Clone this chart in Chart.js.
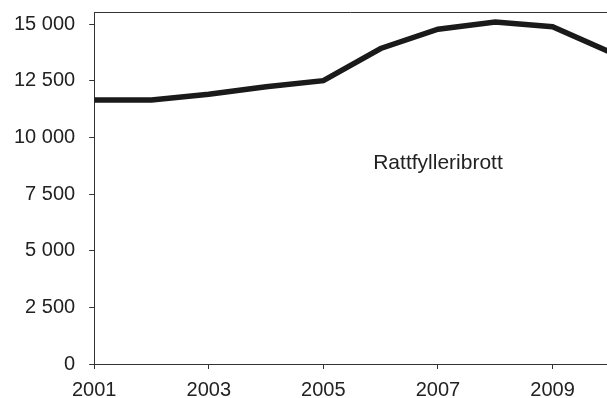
<!DOCTYPE html>
<html>
<head>
<meta charset="utf-8">
<script src="https://cdn.jsdelivr.net/npm/chart.js@4/dist/chart.umd.min.js"></script>
<style>
  html, body { margin: 0; padding: 0; background: #fff; overflow: hidden; }
  #wrap { width: 607px; height: 398px; position: relative; overflow: hidden; }
  #c { position: absolute; left: 0; top: -14px; }
</style>
</head>
<body>
<div id="wrap"><canvas id="c" width="607" height="426"></canvas></div>
<script>
const years = [2001, 2002, 2003, 2004, 2005, 2006, 2007, 2008, 2009, 2010];
const values = [11650, 11650, 11900, 12230, 12500, 13920, 14770, 15090, 14880, 13770];
const yTickValues = [0, 2500, 5000, 7500, 10000, 12500, 15000];
const xTickValues = [2001, 2003, 2005, 2007, 2009];
const seriesLabel = 'Rattfylleribrott';
const labelPos = { x: 2007, y: 8850 };

const fmt = v => String(v).replace(/\B(?=(\d{3})+(?!\d))/g, ' ');
const FONT = "'Liberation Sans', Arial, sans-serif";
const INK = '#222';

const frameAndLabel = {
  id: 'frameAndLabel',
  afterDraw(chart) {
    const { ctx, chartArea, scales } = chart;
    ctx.save();
    ctx.strokeStyle = '#333';
    ctx.lineWidth = 1;
    ctx.beginPath();
    ctx.moveTo(chartArea.left, Math.round(chartArea.top) + 0.5);
    ctx.lineTo(chart.width, Math.round(chartArea.top) + 0.5);
    ctx.stroke();
    ctx.fillStyle = INK;
    ctx.font = "21px " + FONT;
    ctx.textAlign = 'center';
    ctx.textBaseline = 'middle';
    ctx.fillText(seriesLabel, scales.x.getPixelForValue(labelPos.x), scales.y.getPixelForValue(labelPos.y));
    ctx.restore();
  }
};

new Chart(document.getElementById('c'), {
  type: 'line',
  data: {
    datasets: [{
      label: seriesLabel,
      data: years.map((y, i) => ({ x: y, y: values[i] })),
      borderColor: '#1a1a1a',
      borderWidth: 5.5,
      pointRadius: 0,
      tension: 0,
      fill: false
    }]
  },
  options: {
    responsive: false,
    animation: false,
    devicePixelRatio: 1,
    layout: { padding: { left: 0, top: 0, right: 0, bottom: 0 } },
    plugins: { legend: { display: false }, tooltip: { enabled: false } },
    scales: {
      x: {
        type: 'linear',
        min: 2001,
        max: 2009.95,
        afterBuildTicks: s => { s.ticks = xTickValues.map(v => ({ value: v })); },
        grid: { drawOnChartArea: false, drawTicks: true, tickLength: 5, color: '#333' },
        border: { display: true, color: '#333', width: 1 },
        ticks: { color: INK, font: { family: FONT, size: 20 }, padding: 9.5, maxRotation: 0, callback: v => String(v) }
      },
      y: {
        min: 0,
        max: 15530,
        afterBuildTicks: s => { s.ticks = yTickValues.map(v => ({ value: v })); },
        grid: { drawOnChartArea: false, drawTicks: true, tickLength: 5, color: '#333' },
        border: { display: true, color: '#333', width: 1 },
        ticks: { color: INK, font: { family: FONT, size: 20 }, padding: 14, callback: v => fmt(v) }
      }
    }
  },
  plugins: [frameAndLabel]
});
</script>
</body>
</html>
